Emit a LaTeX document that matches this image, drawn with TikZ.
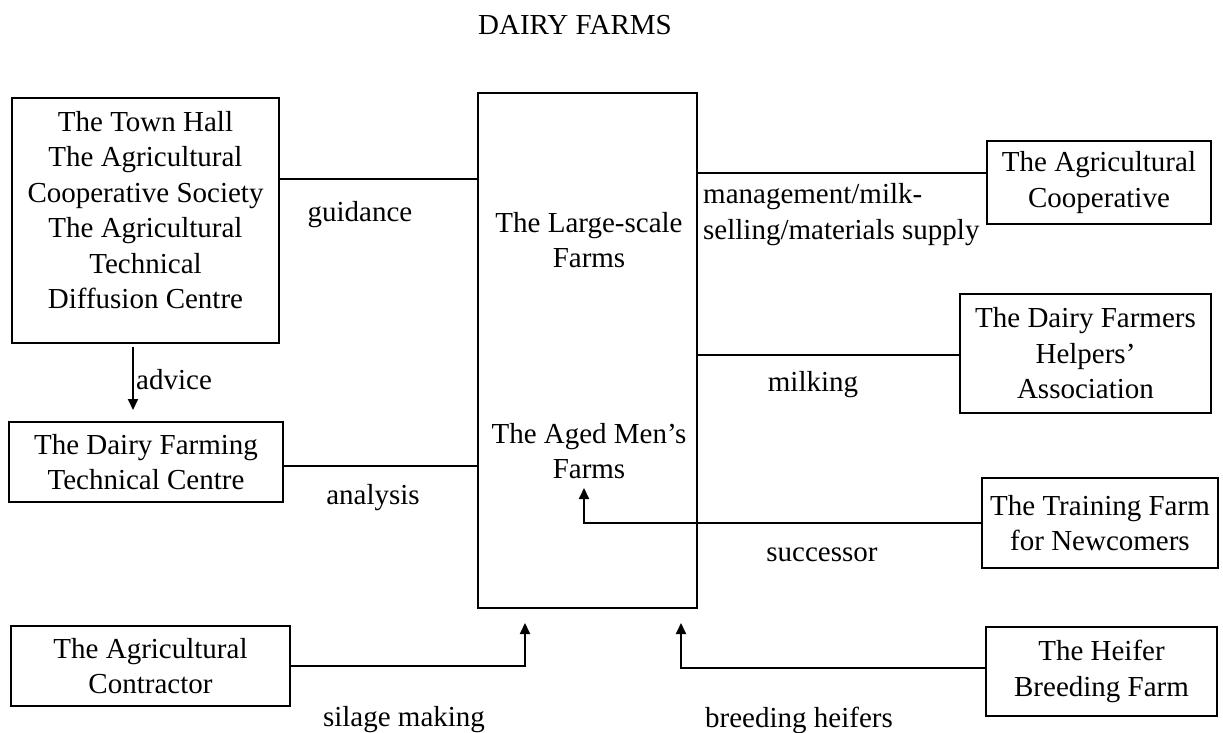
\documentclass[tikz,border=0pt]{standalone}
\usepackage{fontspec}
\setmainfont{Liberation Serif}
\usetikzlibrary{arrows.meta}
\begin{document}
\begin{tikzpicture}[x=1pt,y=-1pt,
  every node/.style={font=\fontsize{29}{35.5}\selectfont, inner sep=0pt},
  box/.style={draw, line width=2pt, align=center},
  lbl/.style={align=center},
  conn/.style={line width=2pt},
  arr/.style={line width=2pt, -{Triangle[length=11pt,width=10pt]}}]
\useasboundingbox (0,0) rectangle (1223,733);

\node (title) at (575,25) {DAIRY FARMS};

% boxes
\node[box, minimum width=267pt, minimum height=245pt] (th) at (145.5,220.5) {};
\node[lbl] (thtext) at (145.5,210) {The Town Hall\\The Agricultural\\Cooperative Society\\The Agricultural\\Technical\\Diffusion Centre};

\node[box, minimum width=219pt, minimum height=515pt] (c) at (587.5,350.5) {};
\node[lbl] (large) at (589,240) {The Large-scale\\Farms};
\node[lbl] (aged) at (589,451) {The Aged Men's\\Farms};

\node[box, minimum width=224pt, minimum height=83pt] (coop) at (1099,182.5) {The Agricultural\\Cooperative};
\node[box, minimum width=251pt, minimum height=119pt] (help) at (1085.5,353.5) {The Dairy Farmers\\Helpers'\\Association};
\node[box, minimum width=236pt, minimum height=90pt] (train) at (1100,523) {The Training Farm\\for Newcomers};
\node[box, minimum width=231pt, minimum height=89pt] (heif) at (1101.5,671.5) {The Heifer\\Breeding Farm};
\node[box, minimum width=274pt, minimum height=80pt] (dftc) at (146,462) {The Dairy Farming\\Technical Centre};
\node[box, minimum width=279pt, minimum height=80pt] (contr) at (150.5,666) {The Agricultural\\Contractor};

% helper coordinates
\coordinate (gy) at (0,179);
\coordinate (cy) at (0,173);
\coordinate (my) at (0,355);
\coordinate (ay) at (0,466);
\coordinate (advtop) at (133,347);
\coordinate (advbot) at (133,410);
\coordinate (succ) at (584,488);
\coordinate (sil) at (525,623);
\coordinate (hf) at (681,623);

% connectors
\draw[conn] (th.east |- gy) -- (c.west |- gy);
\draw[conn] (c.east |- cy) -- (coop.west |- cy);
\draw[conn] (c.east |- my) -- (help.west |- my);
\draw[conn] (dftc.east |- ay) -- (c.west |- ay);
\draw[arr] (advtop) -- (advbot);
\draw[arr] (train.west) -- (succ |- train.west) -- (succ);
\draw[arr] (contr.east) -- (sil |- contr.east) -- (sil);
\draw[arr] (heif.west |- 0,668) -- (hf |- 0,668) -- (hf);

% labels
\node[lbl] (lguid) at (360,215) {guidance};
\node[lbl, anchor=west] (ladv) at (136,380) {advice};
\node[align=left, anchor=west] (lmgmt) at (703,214.5) {management/milk-\\selling/materials supply};
\node[lbl] (lmilk) at (813,385) {milking};
\node[lbl] (lanal) at (373,498) {analysis};
\node[lbl] (lsucc) at (822,555) {successor};
\node[lbl] (lsil) at (404,720) {silage making};
\node[lbl] (lbreed) at (799,720) {breeding heifers};
\end{tikzpicture}
\end{document}
